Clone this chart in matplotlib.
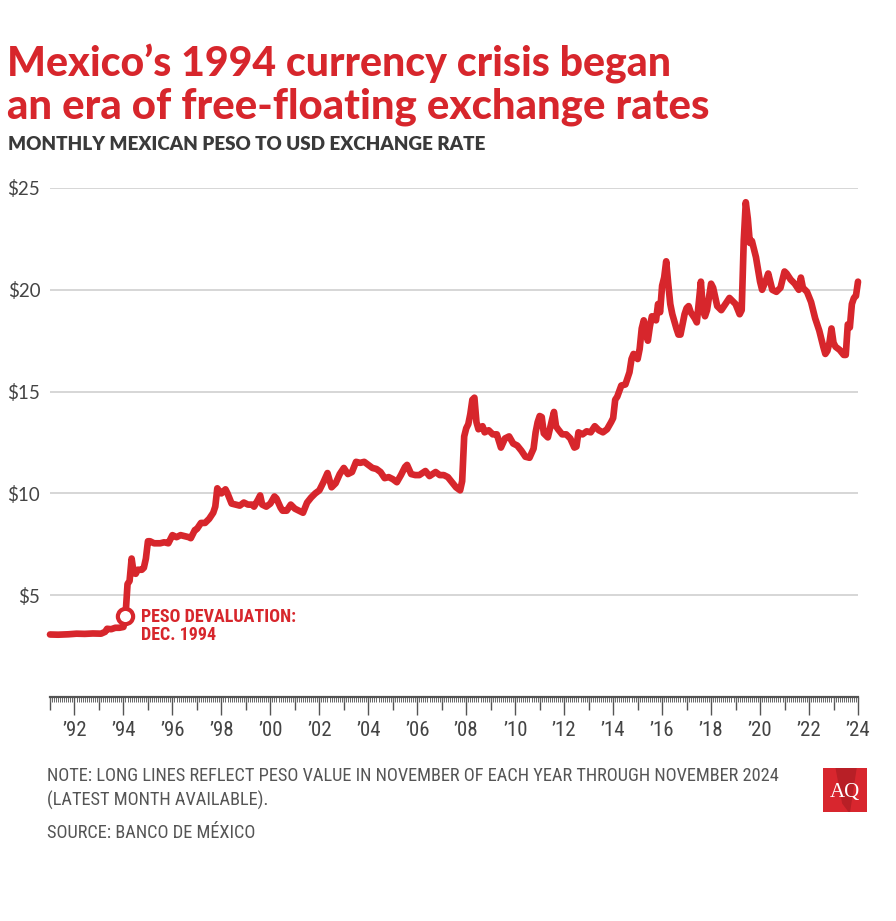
import matplotlib
matplotlib.use("Agg")
import matplotlib.pyplot as plt
from matplotlib.patches import Rectangle

# ---------------- data (monthly MXN per USD) ----------------
months = [
    "1991-11", "1992-03", "1992-08", "1992-12", "1993-04", "1993-08", "1993-12",
    "1994-02", "1994-03", "1994-05", "1994-07", "1994-09", "1994-11", "1994-12",
    "1995-01", "1995-02", "1995-03", "1995-04", "1995-05", "1995-06", "1995-08",
    "1995-09", "1995-10", "1995-11", "1995-12", "1996-02", "1996-05", "1996-07",
    "1996-09", "1996-11", "1997-01", "1997-03", "1997-05", "1997-07", "1997-08",
    "1997-10", "1997-11", "1998-01", "1998-03", "1998-05", "1998-07", "1998-08",
    "1998-09", "1998-10", "1998-11", "1999-01", "1999-02", "1999-04", "1999-06",
    "1999-08", "1999-10", "1999-12", "2000-02", "2000-03", "2000-05", "2000-06",
    "2000-07", "2000-09", "2000-11", "2001-01", "2001-02", "2001-04", "2001-05",
    "2001-07", "2001-09", "2001-11", "2002-01", "2002-03", "2002-05", "2002-07",
    "2002-09", "2002-11", "2003-01", "2003-03", "2003-05", "2003-07", "2003-09",
    "2003-11", "2004-01", "2004-03", "2004-05", "2004-07", "2004-09", "2004-11",
    "2005-01", "2005-03", "2005-05", "2005-07", "2005-09", "2005-11", "2006-01",
    "2006-03", "2006-05", "2006-06", "2006-08", "2006-10", "2006-12", "2007-03",
    "2007-05", "2007-08", "2007-10", "2007-12", "2008-02", "2008-04", "2008-06",
    "2008-08", "2008-09", "2008-10", "2008-11", "2008-12", "2009-01", "2009-02",
    "2009-03", "2009-04", "2009-05", "2009-07", "2009-08", "2009-10", "2009-12",
    "2010-02", "2010-04", "2010-06", "2010-08", "2010-10", "2010-12", "2011-02",
    "2011-04", "2011-06", "2011-08", "2011-09", "2011-10", "2011-11", "2011-12",
    "2012-01", "2012-03", "2012-05", "2012-06", "2012-07", "2012-08", "2012-10",
    "2012-12", "2013-02", "2013-04", "2013-05", "2013-06", "2013-08", "2013-10",
    "2013-12", "2014-02", "2014-04", "2014-06", "2014-08", "2014-10", "2014-11",
    "2014-12", "2015-01", "2015-03", "2015-05", "2015-07", "2015-08", "2015-09",
    "2015-11", "2015-12", "2016-01", "2016-02", "2016-04", "2016-05", "2016-06",
    "2016-08", "2016-09", "2016-10", "2016-11", "2016-12", "2017-01", "2017-02",
    "2017-03", "2017-04", "2017-06", "2017-07", "2017-08", "2017-10", "2017-11",
    "2017-12", "2018-01", "2018-03", "2018-04", "2018-06", "2018-07", "2018-08",
    "2018-09", "2018-11", "2018-12", "2019-02", "2019-04", "2019-06", "2019-08",
    "2019-09", "2019-11", "2020-01", "2020-02", "2020-03", "2020-04", "2020-05",
    "2020-06", "2020-07", "2020-09", "2020-11", "2020-12", "2021-02", "2021-03",
    "2021-05", "2021-07", "2021-09", "2021-11", "2021-12", "2022-02", "2022-04",
    "2022-06", "2022-07", "2022-08", "2022-10", "2022-12", "2023-02", "2023-04",
    "2023-06", "2023-07", "2023-08", "2023-09", "2023-10", "2023-11", "2023-12",
    "2024-02", "2024-04", "2024-05", "2024-06", "2024-07", "2024-08", "2024-09",
    "2024-10", "2024-11",
]
rates = [
    3.07, 3.06, 3.08, 3.11, 3.10, 3.12, 3.11,
    3.20, 3.35, 3.33, 3.40, 3.40, 3.44, 3.98,
    5.55, 5.70, 6.80, 6.10, 6.05, 6.25, 6.25,
    6.35, 6.80, 7.65, 7.65, 7.55, 7.55, 7.60,
    7.55, 7.95, 7.85, 7.95, 7.90, 7.85, 7.80,
    8.20, 8.25, 8.55, 8.55, 8.75, 9.05, 9.35,
    10.25, 10.10, 10.00, 10.20, 10.00, 9.50, 9.45,
    9.40, 9.55, 9.45, 9.45, 9.35, 9.70, 9.90,
    9.45, 9.35, 9.50, 9.85, 9.75, 9.30, 9.15,
    9.15, 9.45, 9.25, 9.15, 9.05, 9.55, 9.80,
    10.00, 10.15, 10.55, 11.00, 10.30, 10.50, 10.95,
    11.25, 10.95, 11.05, 11.55, 11.50, 11.55, 11.40,
    11.25, 11.20, 11.05, 10.75, 10.80, 10.70, 10.55,
    10.90, 11.30, 11.40, 10.95, 10.90, 10.90, 11.10,
    10.85, 11.05, 10.90, 10.90, 10.80, 10.55, 10.30,
    10.15, 10.60, 12.80, 13.20, 13.40, 13.90, 14.60,
    14.70, 13.50, 13.15, 13.30, 13.00, 13.10, 12.90,
    12.90, 12.25, 12.70, 12.80, 12.45, 12.35, 12.10,
    11.80, 11.75, 12.20, 13.00, 13.50, 13.80, 13.75,
    12.95, 12.75, 13.60, 14.00, 13.30, 13.15, 12.90,
    12.90, 12.70, 12.25, 12.30, 13.00, 12.90, 13.05,
    13.00, 13.30, 13.10, 13.00, 13.15, 13.50, 13.70,
    14.60, 14.75, 15.30, 15.35, 15.95, 16.60, 16.85,
    16.60, 17.10, 18.10, 18.50, 17.50, 18.20, 18.70,
    18.50, 19.30, 18.90, 20.20, 20.60, 21.40, 20.30,
    19.30, 18.80, 18.10, 17.80, 17.80, 18.80, 19.10,
    19.20, 18.90, 18.60, 18.40, 20.40, 19.00, 18.70,
    19.00, 20.30, 20.10, 19.20, 19.00, 19.30, 19.60,
    19.50, 19.30, 18.80, 19.00, 22.40, 24.30, 23.50,
    22.30, 22.40, 21.60, 20.40, 20.00, 20.50, 20.80,
    20.00, 19.90, 20.10, 20.90, 20.80, 20.50, 20.30,
    20.00, 20.60, 20.10, 19.90, 19.40, 18.60, 18.00,
    17.20, 16.85, 17.00, 17.40, 18.10, 17.40, 17.20,
    17.05, 16.80, 16.80, 18.30, 18.15, 19.30, 19.60,
    19.70, 20.40,
]
y_ticks = [5, 10, 15, 20, 25]
y_labels = ["$5", "$10", "$15", "$20", "$25"]
tick_years = list(range(1992, 2025, 2))
tick_labels = ["\u2019" + str(y)[2:] for y in tick_years]
devaluation_month = "1994-12"
devaluation_value = 3.98

title_lines = ["Mexico\u2019s 1994 currency crisis began",
               "an era of free-floating exchange rates"]
subtitle = "MONTHLY MEXICAN PESO TO USD EXCHANGE RATE"
annotation = "PESO DEVALUATION:\nDEC. 1994"
note_lines = ["NOTE: LONG LINES REFLECT PESO VALUE IN NOVEMBER OF EACH YEAR THROUGH NOVEMBER 2024",
              "(LATEST MONTH AVAILABLE)."]
source = "SOURCE: BANCO DE M\u00c9XICO"


def to_year(m):
    y, mo = m.split("-")
    return int(y) + (int(mo) - 1) / 12.0


# ---------------- styling ----------------
RED = "#d7262c"
DARK = "#3a3a3a"
GRAY = "#555555"
NARROW = ["Roboto Condensed", "Roboto", "DejaVu Sans"]
HEAVY = ["Lato", "DejaVu Sans"]

W, H = 896, 921
fig = plt.figure(figsize=(W / 100, H / 100), dpi=100)
fig.patch.set_facecolor("white")


def fx(px):
    return px / W


def fy(py):
    return 1 - py / H


x0, x1 = 50, 858
y_top, y_bot = 188, 697
ax = fig.add_axes([fx(x0), fy(y_bot), (x1 - x0) / W, (y_bot - y_top) / H])
ax.set_facecolor("white")

t = [to_year(m) for m in months]
t_start = to_year("1991-11")
t_end = to_year("2024-11")
ax.set_xlim(t_start, t_end)
ax.set_ylim(0, 25)

# gridlines
for v in y_ticks:
    ax.axhline(v, color="#cfcfcf", lw=1.2, zorder=1)

ax.plot(t, rates, color=RED, lw=4.8, solid_joinstyle="round",
        solid_capstyle="round", zorder=3, clip_on=False)

# devaluation marker
ax.plot([to_year(devaluation_month)], [devaluation_value], marker="o", ms=11,
        mfc="white", mec=RED, mew=3, zorder=4, clip_on=False)
ax.annotate(annotation, xy=(to_year(devaluation_month), devaluation_value),
            xytext=(11, 6), textcoords="offset points", ha="left", va="top",
            color=RED, fontsize=13, fontweight="bold", family=NARROW,
            linespacing=1.0)

# spines
for s in ["top", "right", "left"]:
    ax.spines[s].set_visible(False)
ax.spines["bottom"].set_color(GRAY)
ax.spines["bottom"].set_linewidth(1.6)

# y ticks
ax.set_yticks(y_ticks)
ax.set_yticklabels(y_labels)
ax.tick_params(axis="y", length=0, pad=7, labelsize=13.5, labelcolor="#444444")
for lab in ax.get_yticklabels():
    lab.set_family(HEAVY)

# x ticks: long (even-year Nov), medium (odd-year Nov), minor (months)
major_pos = [to_year(f"{y}-11") for y in tick_years]
ax.set_xticks(major_pos)
ax.set_xticklabels(tick_labels)
ax.tick_params(axis="x", which="major", length=13, width=1.0, color=GRAY,
               direction="out", pad=4, labelsize=15, labelcolor="#444444")
for lab in ax.get_xticklabels():
    lab.set_family(NARROW)
minor_pos = [t_start + k / 12.0 for k in range(0, 397)]
ax.set_xticks(minor_pos, minor=True)
ax.tick_params(axis="x", which="minor", length=3.8, width=0.7, color="#666666",
               direction="out")

sec = ax.secondary_xaxis("bottom")
sec.set_xticks([to_year(f"{y}-11") for y in range(1991, 2024, 2)])
sec.set_xticklabels([])
sec.tick_params(axis="x", length=9, width=1.0, color=GRAY, direction="out")
sec.spines["bottom"].set_visible(False)

# ---------------- texts ----------------
fig.text(fx(7), fy(77), title_lines[0], ha="left", va="baseline", color=RED,
         fontsize=29.5, fontweight="black", family=HEAVY)
fig.text(fx(7), fy(118), title_lines[1], ha="left", va="baseline", color=RED,
         fontsize=30.2, fontweight="black", family=HEAVY)
fig.text(fx(8), fy(150), subtitle, ha="left", va="baseline", color=DARK,
         fontsize=13.6, fontweight="heavy", family=HEAVY)
fig.text(fx(47), fy(781), note_lines[0], ha="left", va="baseline", color=GRAY,
         fontsize=13.2, family=NARROW)
fig.text(fx(47), fy(806), note_lines[1], ha="left", va="baseline", color=GRAY,
         fontsize=13.2, family=NARROW)
fig.text(fx(47), fy(838), source, ha="left", va="baseline", color=GRAY,
         fontsize=13.2, family=NARROW)

# AQ logo
logo = fig.add_axes([fx(823), fy(812), 44 / W, 44 / H])
logo.add_patch(Rectangle((0, 0), 1, 1, color="#d8262e"))
logo.add_patch(plt.Polygon([[0.3, 1], [0.75, 1], [0.6, 0.0], [0.45, 0.2]],
                           color="#b81f26"))
logo.text(0.5, 0.45, "AQ", ha="center", va="center", color="white",
          fontsize=15, family=["Liberation Serif", "DejaVu Serif"])
logo.set_xlim(0, 1)
logo.set_ylim(0, 1)
logo.axis("off")

fig.savefig("out.png", dpi=100, facecolor="white")
